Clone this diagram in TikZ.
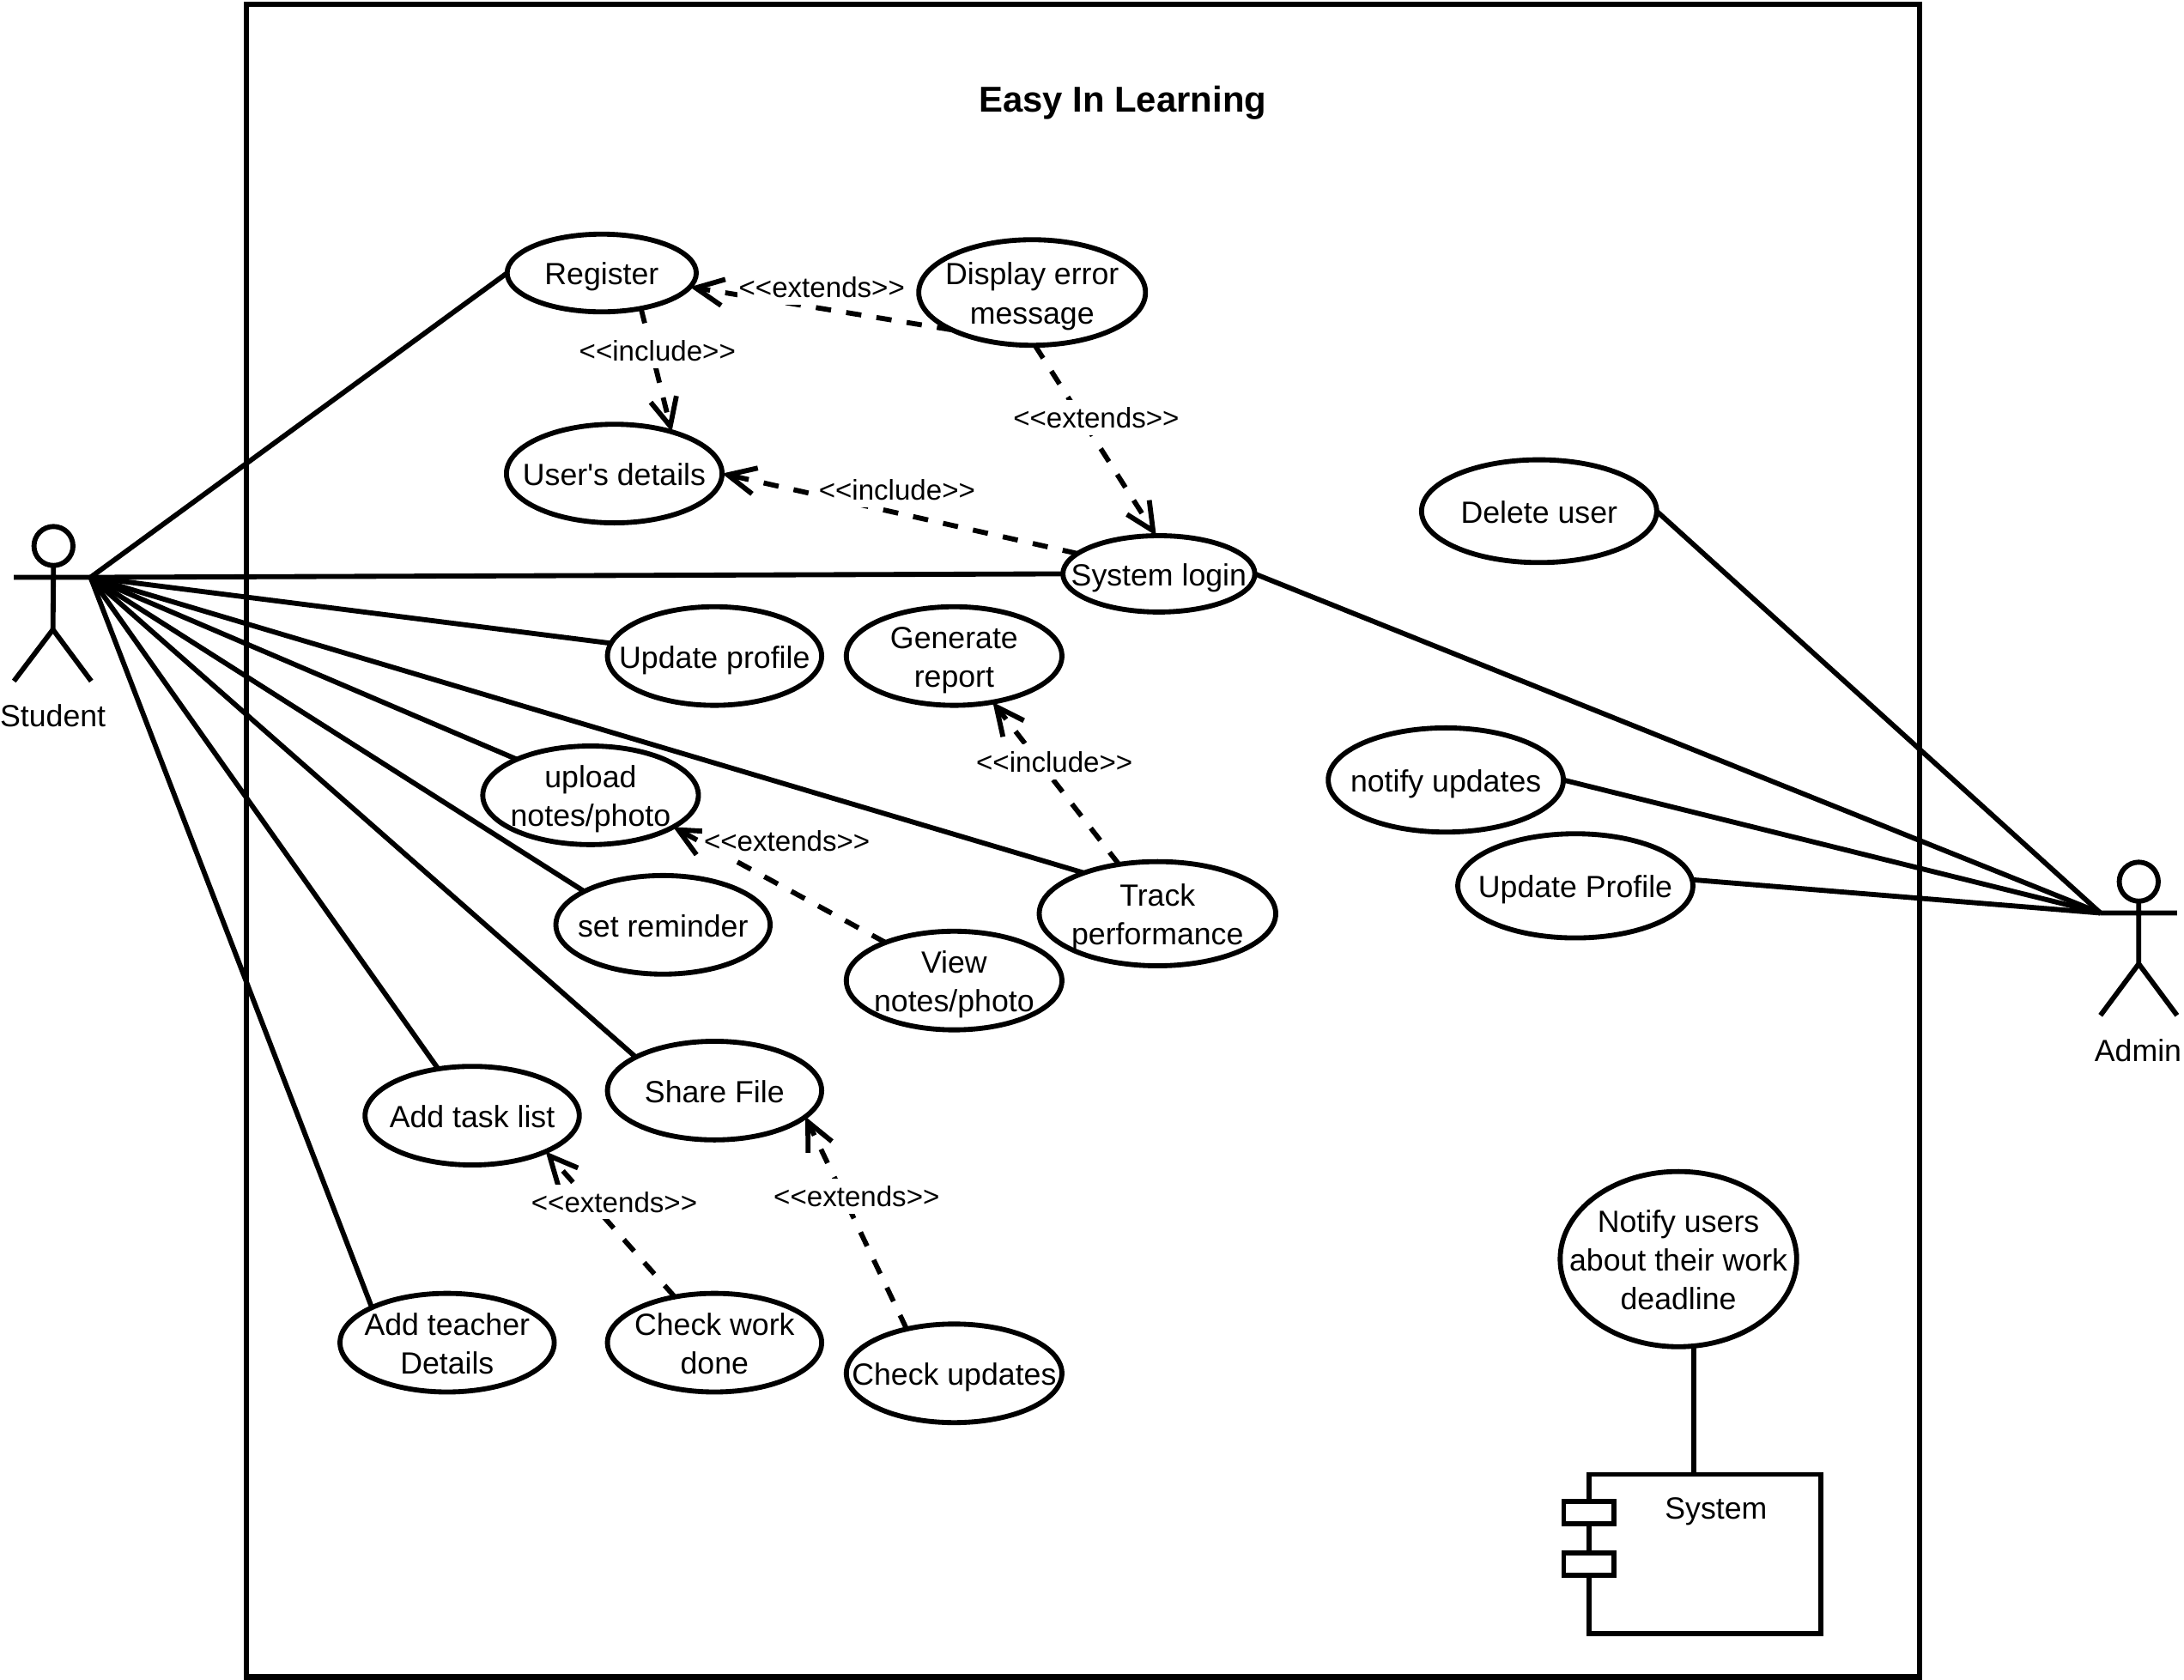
\documentclass[tikz,border=0pt]{standalone}
\usepackage{fontspec}
\setmainfont{Liberation Sans}
\usetikzlibrary{shapes.geometric,arrows.meta}
\newcommand\uctext[1]{\makebox[0pt]{\smash{\raisebox{-4.2pt}{\fontsize{11}{14}\selectfont\setlength\tabcolsep{0pt}\begin{tabular}{c}#1\end{tabular}}}}}
\newcommand\lt{<{}<}
\newcommand\gt{>{}>}
\tikzset{
  x=0.5pt,y=-0.5pt,
  thick line/.style={line width=1.8pt,black},
  uc/.style 2 args={ellipse,draw,thick line,inner sep=0pt,outer sep=0pt,fill=white,
    minimum width={(#1-2.2)*0.5pt},minimum height={(#2-2.2)*0.5pt}},
  assoc/.style={thick line},
  dep/.style={thick line,dash pattern=on 5.5pt off 5.5pt,
    -{Straight Barb[length=10pt,width=9.5pt,line width=1.8pt]}},
  deplabel/.style={fill=white,inner xsep=0.5pt,inner ysep=0pt,minimum height=12.5pt,font=\fontsize{10.2}{12}\selectfont},
  actorhead/.style={ellipse,draw,thick line,inner sep=0pt,outer sep=0pt,minimum width=14pt,minimum height=14pt},
  actorname/.style={font=\fontsize{11}{13}\selectfont,inner sep=0pt},
  port/.style={rectangle,draw,thick line,fill=white,inner sep=0pt,outer sep=0pt,minimum width=18pt,minimum height=8pt},
}
\begin{document}
\begin{tikzpicture}
\useasboundingbox (0,0) rectangle (1568,1205.6);
% system boundary
\node[rectangle,draw,line width=1.9pt,inner sep=0pt,outer sep=0pt,minimum width=600.5pt,minimum height=600.5pt] (boundary) at (777.5,603.5) {};
\node[font=\bfseries\fontsize{12.9}{15}\selectfont,inner sep=0pt] (title) at (806,74) {Easy In Learning};
% use cases
\node[uc={138}{58}] (register) at (432,196) {\uctext{Register}};
\node[uc={165}{78}] (display) at (741,210) {\uctext{Display error\\message}};
\node[uc={157}{73}] (details) at (441,340) {\uctext{User\textquotesingle s details}};
\node[uc={140}{57}] (login) at (832,412) {\uctext{System login}};
\node[uc={156}{73}] (updprof) at (513,471) {\uctext{Update profile}};
\node[uc={157}{73}] (genrep) at (685,471) {\uctext{Generate\\report}};
\node[uc={157}{73}] (upload) at (424,571) {\uctext{upload\\notes/photo}};
\node[uc={156}{73}] (reminder) at (476,664) {\uctext{set reminder}};
\node[uc={172}{77}] (track) at (831,656) {\uctext{Track\\performance}};
\node[uc={157}{73}] (view) at (685,704) {\uctext{View\\notes/photo}};
\node[uc={156}{73}] (share) at (513,783) {\uctext{Share File}};
\node[uc={156}{73}] (tasks) at (339,801) {\uctext{Add task list}};
\node[uc={156}{73}] (teacher) at (321,964) {\uctext{Add teacher\\Details}};
\node[uc={156}{73}] (workdone) at (513,964) {\uctext{Check work\\done}};
\node[uc={157}{73}] (checkupd) at (685,986) {\uctext{Check updates}};
\node[uc={171}{76}] (deleteuser) at (1105,367) {\uctext{Delete user}};
\node[uc={171}{77}] (notifyupd) at (1038,560) {\uctext{notify updates}};
\node[uc={171}{77}] (adminprof) at (1131,636) {\uctext{Update Profile}};
\node[uc={172}{128}] (notifyusers) at (1205,904) {\uctext{Notify users\\about their work\\deadline}};
% component
\node[rectangle,draw,thick line,inner sep=0pt,outer sep=0pt,minimum width=83.2pt,minimum height=57.2pt] (sysbox) at (1224.2,1115.8) {};
\node[port] (porta) at (1140.7,1086.2) {};
\node[port] (portb) at (1140.7,1123) {};
\node[font=\fontsize{11}{13}\selectfont,inner sep=0pt] (systext) at (1232,1085) {System};
% student actor
\node[actorhead] (shead) at (38.4,392) {};
\coordinate (sarmL) at (10,414.5);
\coordinate (shand) at (65,414.5);
\coordinate (ship) at (38,452);
\coordinate (slegL) at (10,489);
\coordinate (slegR) at (65.5,489);
\draw[assoc] (shead.south) -- (ship) (sarmL) -- (shand) (slegL) -- (ship) -- (slegR);
\node[actorname] (student) at (38,514) {Student};
% admin actor
\node[actorhead] (ahead) at (1535.5,633) {};
\coordinate (aarmR) at (1563,655.5);
\coordinate (ahand) at (1508,655.5);
\coordinate (ahip) at (1535.5,692);
\coordinate (alegL) at (1508,729);
\coordinate (alegR) at (1563,729);
\draw[assoc] (ahead.south) -- (ahip) (aarmR) -- (ahand) (alegL) -- (ahip) -- (alegR);
\node[actorname] (admin) at (1535,754) {Admin};
% associations
\draw[assoc] (shand) -- (register.west);
\draw[assoc] (shand) -- (login.west);
\draw[assoc] (shand) -- (updprof.173);
\draw[assoc] (shand) -- (upload.154);
\draw[assoc] (shand) -- (reminder.157.5);
\draw[assoc] (shand) -- (track.151);
\draw[assoc] (shand) -- (share.157);
\draw[assoc] (shand) -- (tasks.126);
\draw[assoc] (shand) -- (teacher.155);
\draw[assoc] (ahand) -- (login.east);
\draw[assoc] (ahand) -- (deleteuser.east);
\draw[assoc] (ahand) -- (notifyupd.east);
\draw[assoc] (ahand) -- (adminprof.3);
\draw[assoc] (notifyusers.-80) -- (sysbox.north -| notifyusers.-80);
% dependencies
\draw[dep] (display.205.4) -- (register.-9.8);
\draw[dep] (display.-87) -- (login.94);
\draw[dep] (register.-42) -- (details.36);
\draw[dep] (login.166.7) -- (details.east);
\draw[dep] (track.128) -- (genrep.-50.5);
\draw[dep] (view.151) -- (upload.-21.3);
\draw[dep] (workdone.131) -- (tasks.-26);
\draw[dep] (checkupd.137) -- (share.-16);
% dependency labels
\node[deplabel] (l1) at (590,206) {\lt extends\gt};
\node[deplabel] (l2) at (472,252) {\lt include\gt};
\node[deplabel] (l3) at (787,300) {\lt extends\gt};
\node[deplabel] (l4) at (644,352) {\lt include\gt};
\node[deplabel] (l5) at (757,547) {\lt include\gt};
\node[deplabel] (l6) at (565,604) {\lt extends\gt};
\node[deplabel] (l7) at (441,863) {\lt extends\gt};
\node[deplabel] (l8) at (615,859) {\lt extends\gt};
\end{tikzpicture}
\end{document}
